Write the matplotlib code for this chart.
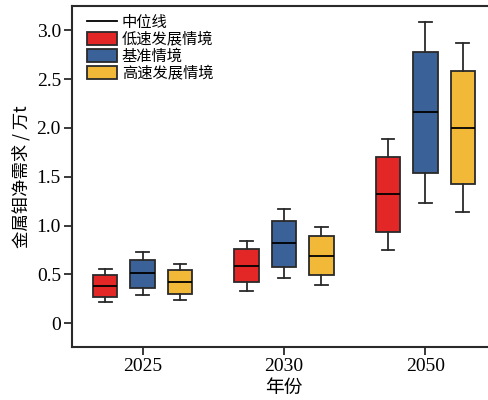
import matplotlib
matplotlib.use("Agg")
import matplotlib.pyplot as plt
from matplotlib.patches import Patch
from matplotlib.lines import Line2D

plt.rcParams['font.family'] = ['Liberation Serif', 'Noto Sans CJK SC']

years = ['2025', '2030', '2050']
scenarios = ['低速发展情境', '基准情境', '高速发展情境']
colors = ['#e32626', '#3a6298', '#f2b938']

# [whisker low, Q1, median, Q3, whisker high] per scenario, per year
low_stats = [[0.215, 0.27, 0.38, 0.495, 0.553],
             [0.331, 0.417, 0.587, 0.755, 0.843],
             [0.748, 0.935, 1.319, 1.70, 1.89]]
base_stats = [[0.287, 0.36, 0.51, 0.65, 0.73],
              [0.458, 0.577, 0.817, 1.045, 1.168],
              [1.23, 1.537, 2.16, 2.78, 3.09]]
high_stats = [[0.236, 0.297, 0.42, 0.54, 0.605],
              [0.389, 0.489, 0.686, 0.89, 0.987],
              [1.137, 1.427, 2.0, 2.58, 2.87]]
all_stats = [low_stats, base_stats, high_stats]

fig = plt.figure(figsize=(4.88, 4.0), dpi=100)
ax = fig.add_axes([72/488, 53/400, (496-72)/488, 341/400])

offsets = [-0.265, 0.0, 0.265]
edge = '#2a2a2a'
for s, (stats_s, col, off) in enumerate(zip(all_stats, colors, offsets)):
    bstats = []
    for st in stats_s:
        bstats.append(dict(whislo=st[0], q1=st[1], med=st[2], q3=st[3], whishi=st[4], fliers=[]))
    pos = [i + off for i in range(len(years))]
    ax.bxp(bstats, positions=pos, widths=0.173, patch_artist=True, showfliers=False,
           capwidths=0.09,
           boxprops=dict(facecolor=col, edgecolor=edge, linewidth=1.3),
           medianprops=dict(color='black', linewidth=1.3),
           whiskerprops=dict(color=edge, linewidth=1.3),
           capprops=dict(color=edge, linewidth=1.3))

ax.set_xlim(-0.5, 2.5)
ax.set_ylim(-0.245, 3.25)
ax.set_xticks(range(len(years)))
ax.set_xticklabels(years)
ax.set_yticks([0, 0.5, 1.0, 1.5, 2.0, 2.5, 3.0])
ax.set_yticklabels(['0', '0.5', '1.0', '1.5', '2.0', '2.5', '3.0'])
ax.tick_params(axis='both', labelsize=14, length=6, width=1.3, direction='out', color=edge)
ax.tick_params(axis='x', pad=2)
ax.tick_params(axis='y', pad=2)
for sp in ax.spines.values():
    sp.set_linewidth(1.5)
    sp.set_color(edge)

ax.set_xlabel('年份', fontsize=13.5, family=['Noto Sans CJK SC'], labelpad=1)
ax.set_ylabel('金属钼净需求 / 万t', fontsize=12.5, family=['Noto Sans CJK SC', 'Liberation Serif'], labelpad=4)

handles = [Line2D([], [], color='black', linewidth=1.3)]
handles += [Patch(facecolor=c, edgecolor=edge, linewidth=1.3) for c in colors]
labels = ['中位线'] + scenarios
leg = ax.legend(handles, labels, loc='upper left', frameon=False,
                prop={'family': 'Noto Sans CJK SC', 'size': 11},
                handlelength=2.0, handleheight=1.0, handletextpad=0.3,
                labelspacing=0.0, borderaxespad=0.0, bbox_to_anchor=(0.02, 0.995))

fig.savefig('out.png', dpi=100)
